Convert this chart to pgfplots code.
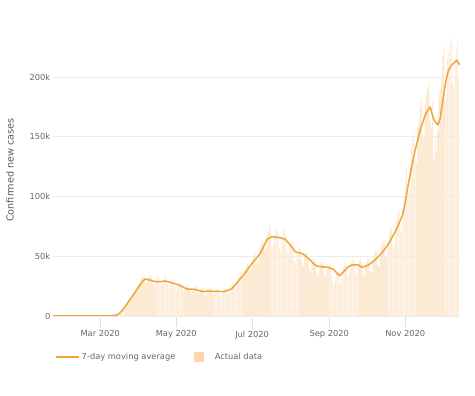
\documentclass[border=0pt]{standalone}
\usepackage{fontspec}
\setmainfont{DejaVu Sans}
\usepackage{pgfplots}
\usepackage{pgfplotstable}
\pgfplotsset{compat=1.18}
\definecolor{linec}{RGB}{240,165,58}
\definecolor{barc}{RGB}{252,234,212}
\definecolor{legsq}{RGB}{252,214,170}
\definecolor{txt}{RGB}{102,102,102}
\definecolor{ylab}{RGB}{90,90,90}
\definecolor{gridc}{RGB}{236,236,236}
\definecolor{tickc}{RGB}{222,222,222}

\pgfplotstableread{
d v
22 0
60 0
66 0.1
70 0.4
74 1
78 5
82 11
86 17
90 23
94 29
96 31
98 30.6
100 30
103 29
106 28.6
109 28.8
112 29.3
115 28.5
118 27.6
121.6 26.5
125 25
129.6 22.6
133 22.4
136 22.3
139 21.3
142.7 20.4
146 20.8
149 20.9
152 20.6
156 20.5
159 20.4
162 21.2
166 23.2
170 28
175 34.3
179 39.8
183 45.5
186 49
188.5 52.4
191 57.5
194 64.2
198 66.4
201 66
204.6 65.5
208.6 64.2
212.6 59.4
216.6 53.8
219 53
222 52.4
225 50
228.7 46.9
231 44
234 41.8
238 41.2
243 40.7
247.4 39
250 36
252.2 33.7
254.5 36
256.8 38.5
259 41
262 42.7
265 42.9
267.5 42.7
270 40.7
272.5 41.5
275.5 42.7
279 45.5
282 48.3
286 52.5
289 56.6
292 61
294 65
297 70.5
299 75
301 80
303 85
305 95
307.6 111
310 124
313 139
317 155.6
321 168
323 172
325 175
327.7 165
329.5 162
331.2 160
333 165
335.7 183.5
337.5 196
339.8 206
341.5 209
343.8 211.5
346.5 214
349 210
}\avgdata

\pgfplotstableread{
d v
60 0.0
61 0.0
62 0.0
63 0.1
64 0.1
65 0.1
66 0.2
67 0.2
68 0.3
69 0.3
70 0.4
71 0.5
72 0.7
73 0.9
74 1.2
75 2.0
76 2.8
77 3.6
78 5.4
79 6.5
80 8.2
81 10.0
82 11.5
83 13.5
84 14.8
85 16.5
86 18.5
87 19.0
88 21.0
89 24.5
90 26.0
91 27.0
92 28.5
93 31.0
94 33.5
95 32.0
96 28.0
97 27.5
98 30.5
99 33.0
100 34.5
101 32.5
102 27.0
103 25.5
104 28.5
105 30.0
106 32.5
107 31.0
108 26.0
109 25.5
110 27.0
111 30.5
112 33.5
113 32.0
114 27.0
115 24.5
116 26.5
117 29.5
118 31.0
119 29.5
120 25.0
121 22.0
122 24.5
123 27.5
124 29.0
125 27.0
126 22.5
127 20.5
128 22.0
129 25.0
130 26.0
131 25.0
132 21.0
133 18.5
134 21.0
135 24.0
136 25.5
137 24.0
138 19.5
139 18.0
140 20.0
141 22.5
142 23.5
143 22.0
144 18.0
145 17.0
146 19.5
147 22.0
148 24.0
149 23.0
150 19.0
151 17.5
152 20.0
153 22.0
154 23.5
155 22.0
156 18.0
157 17.0
158 19.0
159 21.5
160 23.0
161 22.5
162 19.0
163 18.5
164 22.0
165 25.5
166 27.5
167 27.0
168 24.0
169 25.0
170 30.0
171 33.5
172 37.0
173 36.5
174 32.5
175 33.0
176 38.0
177 41.5
178 44.5
179 43.0
180 38.5
181 39.0
182 46.0
183 50.5
184 54.0
185 50.0
186 44.5
187 47.0
188 56.0
189 60.5
190 63.5
191 61.0
192 55.0
193 57.0
194 67.0
195 71.5
196 76.0
197 70.5
198 58.0
199 58.5
200 67.5
201 71.0
202 75.0
203 70.0
204 57.0
205 55.5
206 65.0
207 70.0
208 73.0
209 68.0
210 55.0
211 52.0
212 58.0
213 62.0
214 63.5
215 60.0
216 46.5
217 44.0
218 52.5
219 56.0
220 58.5
221 55.0
222 45.0
223 42.0
224 50.0
225 52.5
226 53.0
227 50.5
228 40.0
229 37.5
230 45.0
231 47.0
232 48.5
233 45.0
234 35.5
235 33.5
236 40.5
237 44.0
238 45.5
239 43.5
240 35.0
241 33.0
242 39.0
243 43.0
244 44.5
245 43.0
246 34.0
247 30.0
248 27.0
249 30.5
250 36.5
251 38.0
252 35.0
253 28.0
254 31.0
255 40.0
256 43.5
257 45.5
258 42.0
259 34.0
260 35.0
261 44.5
262 47.0
263 49.5
264 46.0
265 36.0
266 34.5
267 43.0
268 46.5
269 48.0
270 44.5
271 34.0
272 33.0
273 41.0
274 45.0
275 48.5
276 47.0
277 37.5
278 36.5
279 46.5
280 51.0
281 55.0
282 54.0
283 43.0
284 41.5
285 53.0
286 58.5
287 63.0
288 62.5
289 49.5
290 48.5
291 62.0
292 69.0
293 75.0
294 74.0
295 59.0
296 58.0
297 74.5
298 80.0
299 88.0
300 90.0
301 71.5
302 70.0
303 90.0
304 100.0
305 113.0
306 125.0
307 103.0
308 105.0
309 128.0
310 140.0
311 150.0
312 155.0
313 130.0
314 128.0
315 158.0
316 165.0
317 175.0
318 182.0
319 150.0
320 148.0
321 178.0
322 185.0
323 190.0
324 195.0
325 165.0
326 158.0
327 180.0
328 130.0
329 150.0
330 138.0
331 155.0
332 185.0
333 190.0
334 200.0
335 218.0
336 225.0
337 180.0
338 185.0
339 215.0
340 220.0
341 228.0
342 232.0
343 195.0
344 190.0
345 215.0
346 222.0
347 230.0
348 200.0
}\bardata

\begin{document}
\begin{tikzpicture}
\path[use as bounding box] (0pt,0pt) rectangle (475pt,396pt);
\begin{axis}[
  at={(53pt,80pt)}, anchor=south west,
  scale only axis, width=407pt, height=280.8pt,
  xmin=22, xmax=349, ymin=0, ymax=235,
  axis line style={draw=none},
  xtick pos=bottom, ytick pos=left,
  tick align=inside,
  major tick length=9pt,
  xtick={60,121,182,244,305},
  xticklabels={Mar 2020,May 2020,Jul 2020,Sep 2020,Nov 2020},
  ytick={0,50,100,150,200},
  yticklabels={0,50k,100k,150k,200k},
  xtick style={draw=tickc, line width=0.6pt, yshift=-11pt},
  ytick style={draw=none},
  ymajorgrids, grid style={draw=gridc, line width=0.6pt},
  /pgf/number format/assume math mode=true,
  ticklabel style={font=\fontsize{8.3}{10}\selectfont, text=txt},
  xticklabel style={inner sep=0pt, yshift=-14.5pt},
  yticklabel style={inner sep=0pt, xshift=-2.5pt},
  every axis y label/.style={at={([xshift=-43pt]axis description cs:0,0.52)}, rotate=90, anchor=center},
  ylabel={Confirmed new cases},
  ylabel style={font=\fontsize{9.7}{11}\selectfont, text=ylab},
  legend columns=2,
  legend style={at={(axis description cs:0.005,-0.146)}, anchor=west, draw=none, fill=none,
    inner sep=0pt, font=\fontsize{8.3}{10}\selectfont, text=txt,
    /tikz/every even column/.append style={column sep=17pt}},
  legend cell align=left,
]
\addplot[ybar, bar width=0.7, bar shift=0pt, fill=barc, draw=none, forget plot] table[x=d, y=v] {\bardata};
\addplot[color=linec, line width=1.5pt, line join=round,
  legend image code/.code={\draw[color=linec, line width=1.5pt] (0pt,0pt) -- (23pt,0pt);}]
  table[x=d, y=v] {\avgdata};
\addlegendentry{7-day moving average}
\addlegendimage{legend image code/.code={\fill[legsq] (0pt,-4.5pt) rectangle (9pt,4.5pt);}}
\addlegendentry{\hspace{9pt}Actual data}
\end{axis}
\end{tikzpicture}
\end{document}
